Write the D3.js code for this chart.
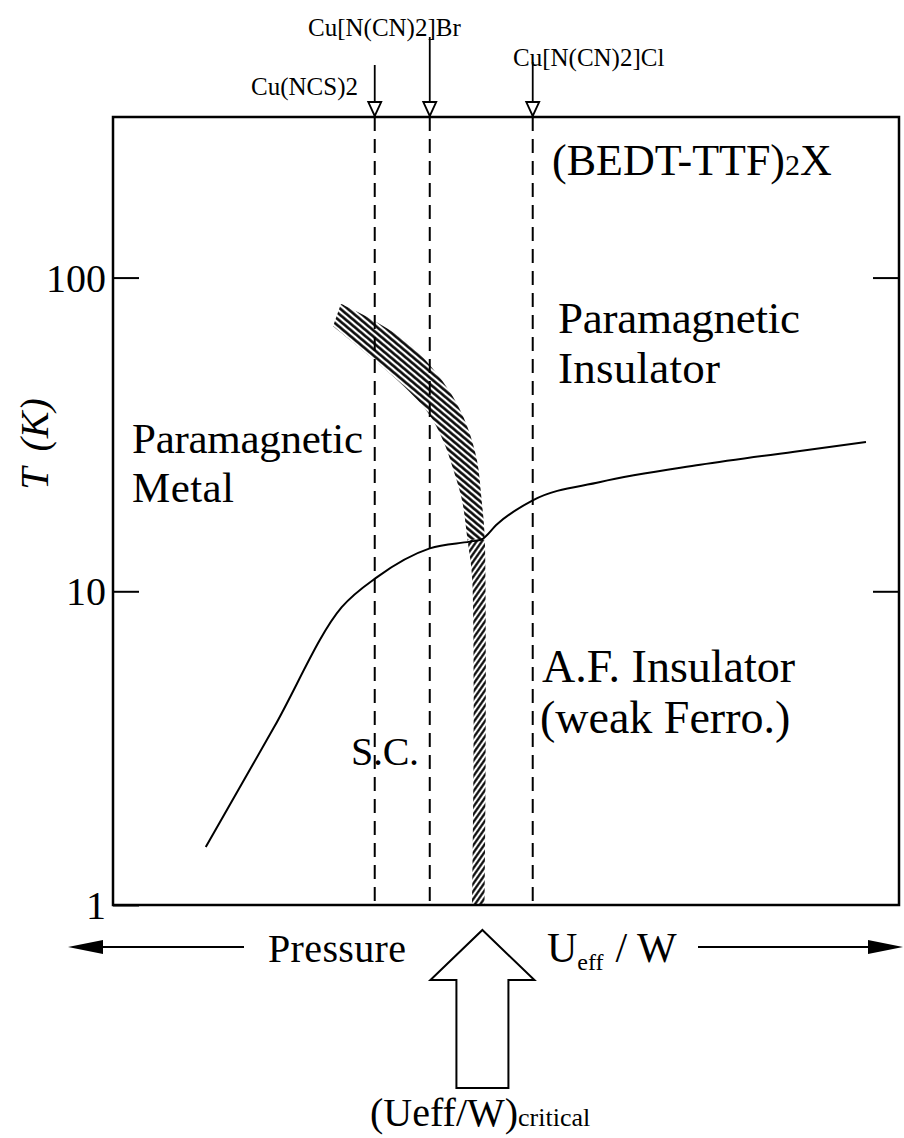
<!DOCTYPE html>
<html>
<head>
<meta charset="utf-8">
<script src="https://cdn.jsdelivr.net/npm/d3@7/dist/d3.min.js"></script>
<style>
body { margin: 0; background: #fff; }
text { font-family: "Liberation Serif", "Times New Roman", serif; fill: #000; }
</style>
</head>
<body>
<div id="chart"></div>
<script>
// T axis (log) and the U_eff/W axis, arbitrary units
var yTicks = [1, 10, 100];
var rightTicks = [10, 100];
var uDomain = [0, 10];
var tDomain = [1, 325];

// salts marked on the top edge
var compounds = ["Cu(NCS)2", "Cu[N(CN)2]Br", "Cu[N(CN)2]Cl"];
var compoundU = [3.33, 4.03, 5.34];

// Tc / T_N boundary
var boundaryU = [1.18, 2.05, 2.91, 3.36, 4.03, 4.54, 4.68, 4.89, 5.34, 6.20, 7.47, 8.74, 9.58];
var boundaryT = [1.53, 3.69, 8.9, 11.1, 13.7, 14.4, 14.6, 16.4, 19.5, 22.3, 25.3, 28.0, 29.9];

// hatched metal-insulator crossover band: two edges
var bandHighU = [2.90, 3.35, 3.74, 4.05, 4.31, 4.50, 4.63, 4.69, 4.73, 4.73];
var bandHighT = [82.5, 72.2, 62.3, 51.9, 42.3, 33.9, 26.2, 19.5, 14.6, 1];
var bandLowU = [2.80, 3.31, 3.70, 4.01, 4.20, 4.33, 4.44, 4.51, 4.57, 4.57];
var bandLowT = [70.0, 55.0, 45.0, 37.0, 30.2, 24.4, 19.5, 14.6, 10.9, 1];
var hatchSplitT = 14.6;

var criticalU = 4.70;

var chartW = 904, chartH = 1138;
var plotL = 113, plotR = 899, plotT = 117, plotB = 905;

var svg = d3.select("#chart").append("svg")
	.attr("width", chartW).attr("height", chartH)
	.style("background", "#fff");

var x = d3.scaleLinear().domain(uDomain).range([plotL, plotR]);
var y = d3.scaleLog().domain(tDomain).range([plotB, plotT]);

function zip(us, ts) {
	var pts = [];
	for (var i = 0; i < us.length; i++) {
		pts.push([x(us[i]), y(ts[i])]);
	}
	return pts;
}

function makeDefs() {
	var defs = svg.append("defs");
	// upper band: "\" hatching, lower vertical part: "/" hatching
	var p1 = defs.append("pattern").attr("id", "hatchA")
		.attr("patternUnits", "userSpaceOnUse").attr("width", 4.8).attr("height", 10)
		.attr("patternTransform", "rotate(-50)");
	p1.append("rect").attr("width", 4.8).attr("height", 10).attr("fill", "#fff");
	p1.append("line").attr("x1", 1.4).attr("y1", 0).attr("x2", 1.4).attr("y2", 10)
		.attr("stroke", "#000").attr("stroke-width", 2.5);
	var p2 = defs.append("pattern").attr("id", "hatchB")
		.attr("patternUnits", "userSpaceOnUse").attr("width", 4.4).attr("height", 10)
		.attr("patternTransform", "rotate(35)");
	p2.append("rect").attr("width", 4.4).attr("height", 10).attr("fill", "#fff");
	p2.append("line").attr("x1", 1.3).attr("y1", 0).attr("x2", 1.3).attr("y2", 10)
		.attr("stroke", "#000").attr("stroke-width", 2.2);

	defs.append("clipPath").attr("id", "clipTop").append("rect")
		.attr("x", plotL).attr("y", plotT).attr("width", plotR - plotL)
		.attr("height", y(hatchSplitT) - plotT);
	defs.append("clipPath").attr("id", "clipBottom").append("rect")
		.attr("x", plotL).attr("y", y(hatchSplitT)).attr("width", plotR - plotL)
		.attr("height", plotB - y(hatchSplitT));
}

function drawAxes() {
	svg.append("rect").attr("x", plotL).attr("y", plotT)
		.attr("width", plotR - plotL).attr("height", plotB - plotT)
		.attr("fill", "none").attr("stroke", "#000").attr("stroke-width", 2.5);

	var yAxis = svg.append("g").attr("transform", "translate(" + plotL + ",0)")
		.call(d3.axisLeft(y).tickValues(yTicks).tickSize(-26).tickPadding(7)
			.tickFormat(d3.format("d")));
	yAxis.select(".domain").remove();
	yAxis.selectAll("line").attr("stroke", "#000").attr("stroke-width", 2);
	yAxis.selectAll("text").style("font-size", "40px")
		.style("font-family", "'Liberation Serif', serif").attr("dy", "0.34em");

	var rAxis = svg.append("g").attr("transform", "translate(" + plotR + ",0)")
		.call(d3.axisRight(y).tickValues(rightTicks).tickSize(-26).tickFormat(""));
	rAxis.select(".domain").remove();
	rAxis.selectAll("line").attr("stroke", "#000").attr("stroke-width", 2);

	var yl = svg.append("text").attr("transform", "translate(48,444) rotate(-90)")
		.attr("text-anchor", "middle").style("font-size", "40px")
		.style("font-style", "italic");
	yl.append("tspan").text("T");
	yl.append("tspan").attr("dx", 16).text("(K)");
}

function drawCompounds() {
	var labelPos = [[358, 95, "end"], [308, 36, "start"], [513, 66, "start"]];
	var lineTop = [65, 37, 62];
	for (var i = 0; i < compounds.length; i++) {
		var cx = x(compoundU[i]);
		svg.append("line").attr("x1", cx).attr("x2", cx)
			.attr("y1", plotT).attr("y2", plotB)
			.attr("stroke", "#000").attr("stroke-width", 2)
			.attr("stroke-dasharray", "14,8");
		svg.append("line").attr("x1", cx).attr("x2", cx)
			.attr("y1", lineTop[i]).attr("y2", plotT - 1)
			.attr("stroke", "#000").attr("stroke-width", 1.8);
		svg.append("path")
			.attr("d", "M" + (cx - 6.5) + "," + (plotT - 15) + "L" + (cx + 6.5) + "," + (plotT - 15)
				+ "L" + cx + "," + (plotT - 1) + "Z")
			.attr("fill", "#fff").attr("stroke", "#000").attr("stroke-width", 1.8);
		svg.append("text").attr("x", labelPos[i][0]).attr("y", labelPos[i][1])
			.attr("text-anchor", labelPos[i][2]).style("font-size", "25px")
			.text(compounds[i]);
	}
}

function drawBand() {
	var edge = d3.line().curve(d3.curveCatmullRom.alpha(0.5));
	var hi = edge(zip(bandHighU, bandHighT));
	var lo = edge(zip(bandLowU, bandLowT).reverse());
	var d = hi + "L" + lo.slice(1) + "Z";
	svg.append("path").attr("d", d).attr("fill", "url(#hatchA)")
		.attr("clip-path", "url(#clipTop)");
	svg.append("path").attr("d", d).attr("fill", "url(#hatchB)")
		.attr("clip-path", "url(#clipBottom)");
}

function drawBoundary() {
	var line = d3.line().curve(d3.curveMonotoneX);
	svg.append("path").attr("d", line(zip(boundaryU, boundaryT)))
		.attr("fill", "none").attr("stroke", "#000").attr("stroke-width", 2);
}

function addText(tx, ty, size, str, len) {
	var t = svg.append("text").attr("x", tx).attr("y", ty)
		.style("font-size", size + "px").text(str);
	if (len) {
		t.attr("textLength", len).attr("lengthAdjust", "spacing");
	}
	return t;
}

function drawLabels() {
	var t = addText(552, 175, 44, "(BEDT-TTF)");
	t.append("tspan").style("font-size", "30px").text("2");
	t.append("tspan").text("X");

	addText(558, 333, 45, "Paramagnetic", 242);
	addText(558, 383, 45, "Insulator", 162);
	addText(132, 453, 43, "Paramagnetic", 231);
	addText(132, 502, 43, "Metal", 102);
	addText(542, 682, 46, "A.F. Insulator");
	addText(540, 733, 46, "(weak Ferro.)");
	addText(351, 765, 40, "S.C.", 68);
}

function drawBottom() {
	var ay = 947;
	svg.append("line").attr("x1", 98).attr("x2", 244).attr("y1", ay).attr("y2", ay)
		.attr("stroke", "#000").attr("stroke-width", 2);
	svg.append("path").attr("d", "M68," + ay + "L103," + (ay - 7) + "L103," + (ay + 7) + "Z")
		.attr("fill", "#000");
	svg.append("line").attr("x1", 698).attr("x2", 872).attr("y1", ay).attr("y2", ay)
		.attr("stroke", "#000").attr("stroke-width", 2);
	svg.append("path").attr("d", "M903," + ay + "L868," + (ay - 7) + "L868," + (ay + 7) + "Z")
		.attr("fill", "#000");

	addText(268, 962, 40, "Pressure", 138);
	var u = addText(547, 962, 42, "U");
	u.append("tspan").attr("dy", 8).style("font-size", "24px").text("eff");
	u.append("tspan").attr("dy", -8).attr("dx", 12).text("/ W");

	// big open arrow pointing at the critical value
	var cx = x(criticalU);
	var pts = [[0, 930], [52, 980], [26, 980], [26, 1088], [-26, 1088], [-26, 980], [-52, 980]];
	svg.append("path")
		.attr("d", d3.line()(pts.map(function(p) { return [cx + p[0], p[1]]; })) + "Z")
		.attr("fill", "#fff").attr("stroke", "#000").attr("stroke-width", 2);

	var c = addText(370, 1126, 40, "(Ueff/W)");
	c.append("tspan").style("font-size", "26px").text("critical");
}

makeDefs();
drawBand();
drawBoundary();
drawCompounds();
drawAxes();
drawLabels();
drawBottom();
</script>
</body>
</html>
